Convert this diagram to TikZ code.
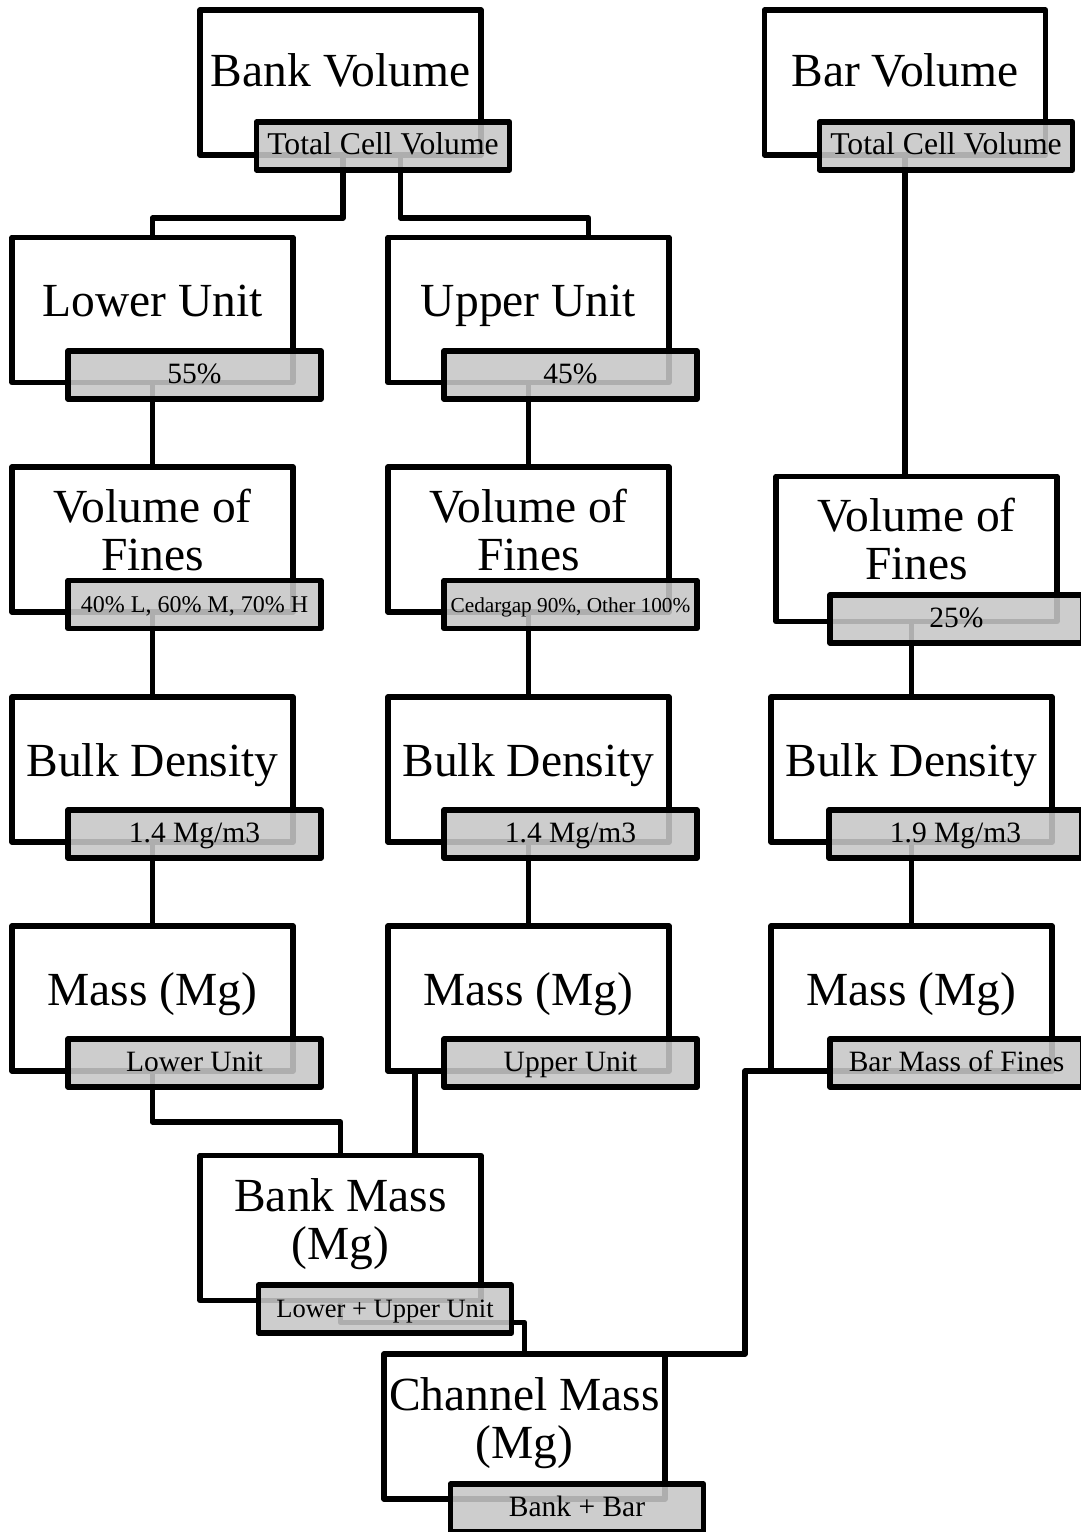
\documentclass[tikz,border=0pt]{standalone}
\usepackage{fontspec}
\setmainfont{Liberation Serif}
\usepackage{tikz}
\newcommand{\boxfont}{\fontsize{47.5}{48}\selectfont}
\newcommand{\notefont}{\fontsize{29.5}{31}\selectfont}

\begin{document}
\begin{tikzpicture}[x=1pt, y=-1pt, line join=round,
		unit_box/.style={rectangle,draw=black,fill=white,line width=5.5pt,minimum width=281pt,minimum height=145pt,inner sep=0pt,outer sep=0pt},
		box_text/.style={font=\boxfont,align=center,inner sep=0pt,anchor=base},
		note_box/.style={rectangle,draw=black,fill=black!22,fill opacity=0.88,text opacity=1,line width=5.5pt,minimum width=253pt,minimum height=48pt,inner sep=0pt,outer sep=0pt,text height=20pt,text depth=4pt,font=\notefont},
		edge_style/.style={draw=black,line width=5.5pt}]

		\useasboundingbox[fill=white] (0,0) rectangle (1081,1532);
		\clip (0,0) rectangle (1081,1532);

		% white boxes
		\node[unit_box] (bankvol) at (340.5,82.5) {};
		\node[unit_box] (barvol) at (905,82.5) {};
		\node[unit_box] (lower) at (152.5,310) {};
		\node[unit_box] (upper) at (528.5,310) {};
		\node[unit_box] (voflow) at (152.5,539.5) {};
		\node[unit_box] (vofup) at (528.5,539.5) {};
		\node[unit_box] (vofbar) at (916.5,549) {};
		\node[unit_box] (bdlow) at (152.5,769.5) {};
		\node[unit_box] (bdup) at (528.5,769.5) {};
		\node[unit_box] (bdbar) at (911.5,769.5) {};
		\node[unit_box] (masslow) at (152.5,998.5) {};
		\node[unit_box] (massup) at (528.5,998.5) {};
		\node[unit_box] (massbar) at (911.5,998.5) {};
		\node[unit_box] (bankmass) at (340.5,1228) {};
		\node[unit_box] (chanmass) at (524.5,1426.5) {};

		% base of the last line
		\node[box_text] (bankvolt) at (340.5,86) {Bank Volume};
		\node[box_text] (barvolt) at (905,86) {Bar Volume};
		\node[box_text] (lowert) at (152.5,316) {Lower Unit};
		\node[box_text] (uppert) at (528.5,316) {Upper Unit};
		\node[box_text] (voflowt) at (152.5,570) {Volume of\\Fines};
		\node[box_text] (vofupt) at (528.5,570) {Volume of\\Fines};
		\node[box_text] (vofbart) at (916.5,579) {Volume of\\Fines};
		\node[box_text] (bdlowt) at (152.5,776) {Bulk Density};
		\node[box_text] (bdupt) at (528.5,776) {Bulk Density};
		\node[box_text] (bdbart) at (911.5,776) {Bulk Density};
		\node[box_text] (masslowt) at (152.5,1005) {Mass (Mg)};
		\node[box_text] (massupt) at (528.5,1005) {Mass (Mg)};
		\node[box_text] (massbart) at (911.5,1005) {Mass (Mg)};
		\node[box_text] (bankmasst) at (340.5,1259) {Bank Mass\\(Mg)};
		\node[box_text] (chanmasst) at (524.5,1458) {Channel Mass\\(Mg)};

		% connectors
		\draw[edge_style] ([xshift=2.5pt]bankvol.south) -- ++(0,63) -| (lower.north);
		\draw[edge_style] ([xshift=60pt]bankvol.south) -- ++(0,63) -| ([xshift=60pt]upper.north);
		\draw[edge_style] (barvol.south) -- (barvol.south |- vofbar.north);
		\draw[edge_style] (lower) -- (voflow);
		\draw[edge_style] (upper) -- (vofup);
		\draw[edge_style] (voflow) -- (bdlow);
		\draw[edge_style] (vofup) -- (bdup);
		\draw[edge_style] (bdbar.north |- vofbar.south) -- (bdbar.north);
		\draw[edge_style] (bdlow) -- (masslow);
		\draw[edge_style] (bdup) -- (massup);
		\draw[edge_style] (bdbar) -- (massbar);
		\draw[edge_style] (masslow.south) -- ++(0,51) -| (bankmass.north);
		\draw[edge_style] ([xshift=27pt]massup.south west) -- ([xshift=27pt]massup.south west |- bankmass.north);
		\draw[edge_style] (bankmass.south) -- ++(0,22) -| (chanmass.north);
		\draw[edge_style] ([xshift=40pt]massbar.south west) -- ++(-66,0) |- (chanmass.north east);

		% grey notes
		\node[note_box, font=\fontsize{31.7}{33}\selectfont] (tcvbank) at (383,146) {Total Cell Volume};
		\node[note_box, font=\fontsize{31.7}{33}\selectfont] (tcvbar) at (946,146) {Total Cell Volume};
		\node[note_box] (pctlow) at (194.5,375) {55\%};
		\node[note_box] (pctup) at (570.5,375) {45\%};
		\node[note_box, font=\fontsize{24}{26}\selectfont] (fineslow) at (194.5,604.5) {40\% L, 60\% M, 70\% H};
		\node[note_box, font=\fontsize{21.3}{23}\selectfont] (finesup) at (570.5,604.5) {Cedargap 90\%, Other 100\%};
		\node[note_box] (finesbar) at (956.5,619) {25\%};
		\node[note_box] (denslow) at (194.5,834) {1.4 Mg/m3};
		\node[note_box] (densup) at (570.5,834) {1.4 Mg/m3};
		\node[note_box] (densbar) at (955.5,834) {1.9 Mg/m3};
		\node[note_box] (masslown) at (194.5,1063) {Lower Unit};
		\node[note_box] (massupn) at (570.5,1063) {Upper Unit};
		\node[note_box] (massbarn) at (956.5,1063) {Bar Mass of Fines};
		\node[note_box, font=\fontsize{26.5}{28}\selectfont] (bankmassn) at (385,1309) {Lower + Upper Unit};
		\node[note_box] (chanmassn) at (577,1508) {Bank + Bar};
\end{tikzpicture}
\end{document}
